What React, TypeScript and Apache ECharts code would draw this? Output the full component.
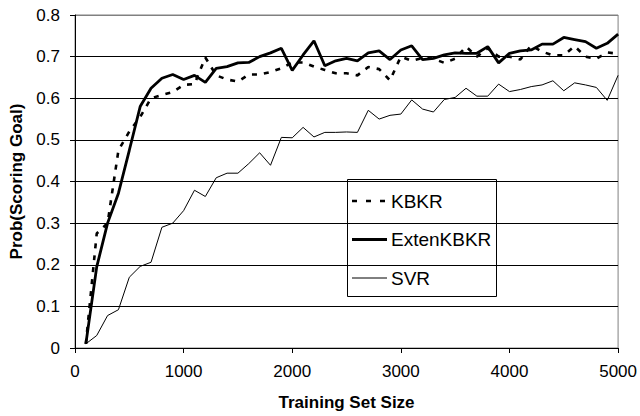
import React, { useEffect, useRef } from "react";
import * as echarts from "echarts";

const trainingSizes = [
  100, 200, 300, 400, 500, 600, 700, 800, 900, 1000,
  1100, 1200, 1300, 1400, 1500, 1600, 1700, 1800, 1900, 2000,
  2100, 2200, 2300, 2400, 2500, 2600, 2700, 2800, 2900, 3000,
  3100, 3200, 3300, 3400, 3500, 3600, 3700, 3800, 3900, 4000,
  4100, 4200, 4300, 4400, 4500, 4600, 4700, 4800, 4900, 5000,
];

const kbkr = [
  0.01, 0.275, 0.3, 0.475, 0.52, 0.555, 0.6, 0.608, 0.615, 0.632,
  0.634, 0.698, 0.655, 0.645, 0.64, 0.657, 0.657, 0.663, 0.672, 0.686,
  0.686, 0.676, 0.668, 0.66, 0.66, 0.655, 0.675, 0.67, 0.643, 0.7,
  0.69, 0.697, 0.695, 0.685, 0.695, 0.724, 0.7, 0.72, 0.7, 0.7,
  0.693, 0.727, 0.712, 0.703, 0.703, 0.725, 0.7, 0.695, 0.71, 0.707,
];

const extenKbkr = [
  0.01, 0.195, 0.3, 0.372, 0.475, 0.58, 0.624, 0.648, 0.657, 0.645,
  0.655, 0.638, 0.672, 0.676, 0.685, 0.686, 0.7, 0.709, 0.72, 0.667,
  0.704, 0.738, 0.678, 0.69, 0.696, 0.69, 0.709, 0.714, 0.693, 0.716,
  0.726, 0.693, 0.696, 0.704, 0.709, 0.708, 0.708, 0.724, 0.685, 0.708,
  0.714, 0.716, 0.73, 0.73, 0.746, 0.741, 0.736, 0.72, 0.732, 0.754,
];

const svr = [
  0.01, 0.03, 0.078, 0.092, 0.17, 0.196, 0.206, 0.29, 0.3, 0.33,
  0.379, 0.364, 0.409, 0.42, 0.42, 0.443, 0.469, 0.439, 0.506, 0.505,
  0.53, 0.507, 0.518, 0.518, 0.519, 0.518, 0.571, 0.55, 0.559, 0.562,
  0.596, 0.574, 0.567, 0.597, 0.602, 0.624, 0.605, 0.605, 0.634, 0.616,
  0.621, 0.628, 0.632, 0.642, 0.618, 0.637, 0.632, 0.626, 0.595, 0.655,
];

const seriesNames = ["KBKR", "ExtenKBKR", "SVR"];

const FONT = "'Liberation Sans', Arial, sans-serif";

const pairs = (ys: number[]) => trainingSizes.map((x, i) => [x, ys[i]]);

const legendStyles = [
  { lineWidth: 2.6, lineDash: [5, 9] as number[] | null },
  { lineWidth: 2.8, lineDash: null },
  { lineWidth: 1, lineDash: null },
];

function buildLegend() {
  const left = 347;
  const top = 179;
  const rowYs = [201, 239.5, 278];
  const children: any[] = [
    {
      type: "rect",
      shape: { x: left + 0.5, y: top + 0.5, width: 149, height: 117 },
      style: { fill: "#ffffff", stroke: "#000", lineWidth: 1 },
    },
  ];
  seriesNames.forEach((name, i) => {
    const y = rowYs[i];
    children.push({
      type: "line",
      shape: { x1: 352, y1: y, x2: 387, y2: y },
      style: {
        stroke: "#000",
        lineWidth: legendStyles[i].lineWidth,
        lineDash: legendStyles[i].lineDash || undefined,
      },
    });
    children.push({
      type: "text",
      x: 391,
      y,
      style: {
        text: name,
        fontFamily: FONT,
        fontSize: 19,
        fill: "#000",
        align: "left",
        verticalAlign: "middle",
      },
    });
  });
  return [{ type: "group", z: 100, children }];
}

export default function App() {
  const ref = useRef<HTMLDivElement>(null);

  useEffect(() => {
    if (!ref.current) return;
    const chart = echarts.init(ref.current, null, { renderer: "svg" });
    chart.setOption({
      animation: false,
      backgroundColor: "#ffffff",
      textStyle: { fontFamily: FONT, color: "#000" },
      grid: {
        left: 75,
        right: 20,
        top: 15,
        bottom: 68,
        show: true,
        borderColor: "#808080",
        borderWidth: 1,
        backgroundColor: "transparent",
      },
      graphic: buildLegend(),
      xAxis: {
        type: "value",
        min: 0,
        max: 5000,
        interval: 1000,
        name: "Training Set Size",
        nameLocation: "middle",
        nameGap: 46,
        nameTextStyle: { fontFamily: FONT, fontSize: 17, fontWeight: "bold", color: "#000" },
        axisLine: { show: true, lineStyle: { color: "#000", width: 1 } },
        axisTick: { show: true, inside: false, length: 5, lineStyle: { color: "#000" } },
        axisLabel: {
          fontFamily: FONT,
          fontSize: 17,
          color: "#000",
          margin: 15,
          formatter: (v: number) => String(v),
        },
        splitLine: { show: false },
      },
      yAxis: {
        type: "value",
        min: 0,
        max: 0.8,
        interval: 0.1,
        name: "Prob(Scoring Goal)",
        nameLocation: "middle",
        nameGap: 43,
        nameTextStyle: { fontFamily: FONT, fontSize: 17, fontWeight: "bold", color: "#000" },
        axisLine: { show: true, lineStyle: { color: "#000", width: 1 } },
        axisTick: { show: true, inside: false, length: 5, lineStyle: { color: "#000" } },
        axisLabel: {
          fontFamily: FONT,
          fontSize: 17,
          color: "#000",
          margin: 15,
          formatter: (v: number) => (v === 0 ? "0" : String(Math.round(v * 10) / 10)),
        },
        splitLine: {
          show: true,
          lineStyle: {
            color: ["#000", "#000", "#000", "#000", "#000", "#000", "#000", "#000", "#808080"],
            width: 1,
          },
        },
      },
      series: [
        {
          name: seriesNames[0],
          type: "line",
          data: pairs(kbkr),
          symbol: "none",
          showSymbol: false,
          lineStyle: { color: "#000", width: 2.6, type: [5, 7] },
          itemStyle: { color: "#000" },
          z: 3,
        },
        {
          name: seriesNames[1],
          type: "line",
          data: pairs(extenKbkr),
          symbol: "none",
          showSymbol: false,
          lineStyle: { color: "#000", width: 2.8, type: "solid" },
          itemStyle: { color: "#000" },
          z: 4,
        },
        {
          name: seriesNames[2],
          type: "line",
          data: pairs(svr),
          symbol: "none",
          showSymbol: false,
          lineStyle: { color: "#000", width: 1, type: "solid" },
          itemStyle: { color: "#000" },
          z: 2,
        },
      ],
    });
    return () => chart.dispose();
  }, []);

  return <div ref={ref} style={{ width: 640, height: 416, position: "absolute", left: 0, top: 0 }} />;
}
